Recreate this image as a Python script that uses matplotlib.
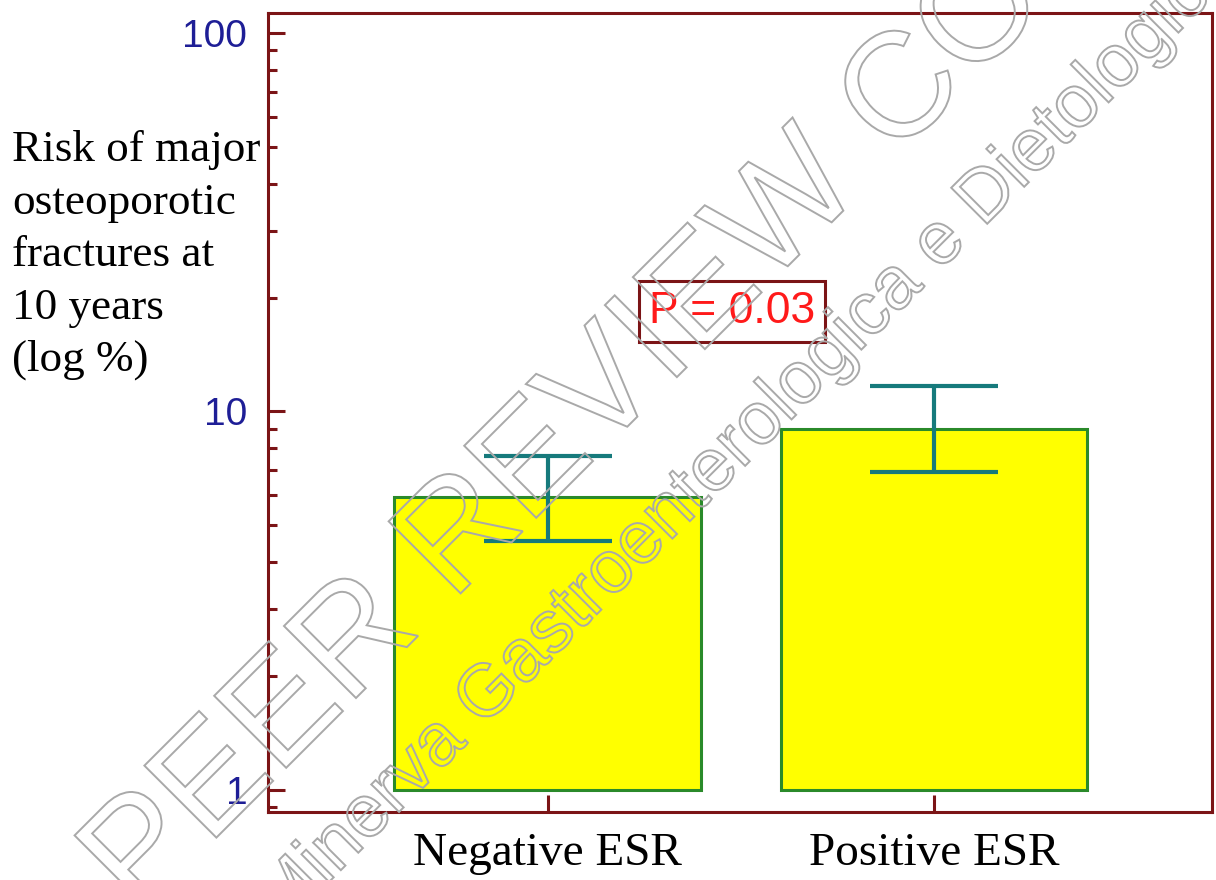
import matplotlib

matplotlib.use("Agg")
import matplotlib.pyplot as plt
import numpy as np
from matplotlib.font_manager import FontProperties
from matplotlib.patches import PathPatch
from matplotlib.textpath import TextPath
from matplotlib.ticker import LogLocator, NullFormatter
from matplotlib.transforms import Affine2D, IdentityTransform

# data
groups = ["Negative ESR", "Positive ESR"]
risk = [5.93, 8.97]
ci_low = [4.54, 6.94]
ci_high = [7.65, 11.71]
p_label = "P = 0.03"
y_ticks = [1, 10, 100]
y_ticklabels = ["1", "10", "100"]
ylabel_lines = ["Risk of major", "osteoporotic", "fractures at", "10 years", "(log %)"]

MAROON = "#7b1416"
BLUE = "#1e1e96"
TEAL = "#167a7c"
W, H = 1216, 880

fig = plt.figure(figsize=(W / 100, H / 100), dpi=100)
ax = fig.add_axes([268 / W, 1 - 812 / H, (1212 - 268) / W, (812 - 13) / H])

x = np.arange(len(groups))
risk = np.array(risk)
ax.bar(
    x,
    risk - 1,
    bottom=1,
    width=0.795,
    color="#ffff00",
    edgecolor="#2a8a2a",
    linewidth=2.2,
    zorder=2,
)
ax.errorbar(
    x,
    risk,
    yerr=[risk - np.array(ci_low), np.array(ci_high) - risk],
    fmt="none",
    ecolor=TEAL,
    elinewidth=3,
    capsize=46,
    capthick=3,
    zorder=3,
)

ax.set_yscale("log")
ax.set_ylim(0.8747, 112.9)
ax.set_xlim(-0.725, 1.72)

ax.set_yticks(y_ticks, y_ticklabels)
ax.yaxis.set_minor_locator(LogLocator(subs=np.arange(2, 10)))
ax.yaxis.set_minor_formatter(NullFormatter())
ax.set_xticks(x, groups)

ax.tick_params(
    axis="y", which="major", direction="in", length=12, width=2.2,
    color=MAROON, labelcolor=BLUE, labelsize=28, pad=15, right=False,
)
ax.tick_params(
    axis="y", which="minor", direction="in", length=6.5, width=2.2,
    color=MAROON, right=False,
)
ax.tick_params(
    axis="x", which="major", direction="in", length=12, width=2.2,
    color=MAROON, labelcolor="black", labelsize=34, pad=15, top=False,
)
for lab in ax.get_yticklabels():
    lab.set_fontfamily("Liberation Sans")
for lab in ax.get_xticklabels():
    lab.set_fontfamily("Liberation Serif")

for sp in ax.spines.values():
    sp.set_color(MAROON)
    sp.set_linewidth(2.2)

ax.text(
    0.477, 18.4, p_label, ha="center", va="center", color="#ff1a1a",
    fontsize=32, family="Liberation Sans", zorder=4,
    bbox=dict(boxstyle="square,pad=0.22", fc="white", ec=MAROON, lw=2.2),
)

# multi-line y label, one line at a time
for i, line in enumerate(ylabel_lines):
    fig.text(
        12 / W, 1 - (161 + 52.5 * i) / H, line, ha="left", va="baseline",
        family="Liberation Serif", fontsize=32.5, color="black",
    )


# outlined watermark text
def outline_text(s, size, x0, y0, angle=45):
    path = TextPath((0, 0), s, size=size, prop=FontProperties(family="Liberation Sans"))
    tr = Affine2D().rotate_deg(angle).translate(x0, H - y0)
    patch = PathPatch(
        tr.transform_path(path), facecolor="none", edgecolor="#a9a9a9",
        lw=1.4, transform=IdentityTransform(), zorder=10,
    )
    fig.add_artist(patch)


outline_text("PEER REVIEW COPY", 148, 138, 916)
outline_text("Minerva Gastroenterologica e Dietologica", 74, 282, 929)

fig.savefig("out.png", dpi=100)
